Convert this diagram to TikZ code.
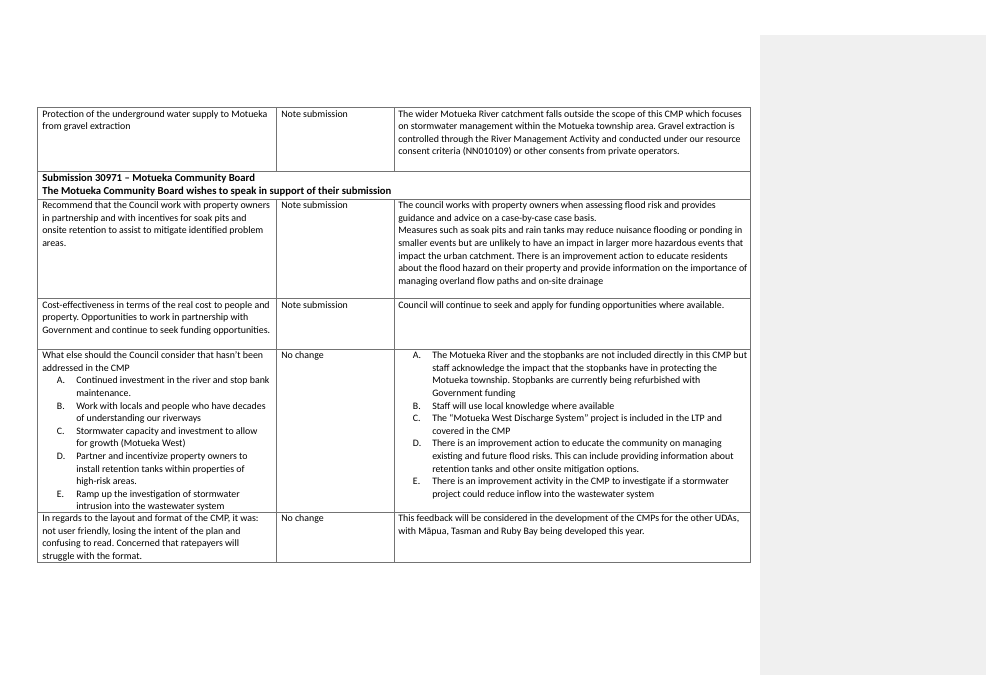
\documentclass[tikz,border=0pt]{standalone}
\usepackage{fontspec}
\setmainfont{Carlito}
\newcommand\cellfont{\fontsize{7.4}{9.45}\selectfont\frenchspacing\hyphenpenalty=10000\relax\exhyphenpenalty=10000\relax}
\newcommand\litem[2]{\hangindent=25.5pt\hangafter=1\noindent\hspace*{11pt}\makebox[14.5pt][l]{#1}#2\par}
\begin{document}
\begin{tikzpicture}[x=0.75pt, y=-0.75pt,
    cell/.style={anchor=north west, inner sep=0pt, align=flush left, font=\cellfont},
    leftcol/.style={cell, text width=171pt},
    midcol/.style={cell, text width=80pt},
    rightcol/.style={cell, text width=262pt},
    rule/.style={draw=black!55, line width=0.7pt}]
    \useasboundingbox (0,0) rectangle (986,675);
    \fill[white] (0,0) rectangle (986,675);
    % comment pane on the right
    \fill[black!6] (760,35) rectangle (986,675);

    % table grid
    \draw[rule] (37,107) rectangle (750,562);
    \foreach \yy in {171,199,298,349,512} \draw[rule] (37,\yy) -- (750,\yy);
    \draw[rule] (276,107) -- (276,171);
    \draw[rule] (394,107) -- (394,171);
    \draw[rule] (276,199) -- (276,562);
    \draw[rule] (394,199) -- (394,562);

    % row: gravel extraction
    \node[leftcol] (gravelq) at (42,110) {Protection of the underground water supply to Motueka from gravel extraction};
    \node[midcol] (gravelr) at (281,110) {Note submission};
    \node[rightcol] (gravela) at (398,110) {The wider Motueka River catchment falls outside the scope of this CMP which focuses on stormwater management within the Motueka township area. Gravel extraction is controlled through the River Management Activity and conducted under our resource consent criteria (NN010109) or other consents from private operators.};

    % submission heading
    \node[cell, font=\cellfont\fontsize{8}{9.6}\selectfont\bfseries, text width=530pt] (subhead) at (42,173.5) {Submission 30971 -- Motueka Community Board\\The Motueka Community Board wishes to speak in support of their submission};

    % row: soak pits
    \node[leftcol] (soakq) at (42,201.5) {Recommend that the Council work with property owners in partnership and with incentives for soak pits and onsite retention to assist to mitigate identified problem areas.};
    \node[midcol] (soakr) at (281,201.5) {Note submission};
    \node[rightcol] (soaka) at (398,201.5) {The council works with property owners when assessing flood risk and provides guidance and advice on a case-by-case case basis.\\Measures such as soak pits and rain tanks may reduce nuisance flooding or ponding in smaller events but are unlikely to have an impact in larger more hazardous events that impact the urban catchment. There is an improvement action to educate residents about the flood hazard on their property and provide information on the importance of managing overland flow paths and on-site drainage};

    % row: cost
    \node[leftcol] (costq) at (42,301) {Cost-effectiveness in terms of the real cost to people and property. Opportunities to work in partnership with Government and continue to seek funding opportunities.};
    \node[midcol] (costr) at (281,301) {Note submission};
    \node[rightcol] (costa) at (398,301) {Council will continue to seek and apply for funding opportunities where available.};

    % row: what else
    \node[leftcol] (elseq) at (42,351.5) {What else should the Council consider that hasn't been addressed in the CMP\par
      \litem{A.}{Continued investment in the river and stop bank maintenance.}
      \litem{B.}{Work with locals and people who have decades of understanding our riverways}
      \litem{C.}{Stormwater capacity and investment to allow for growth (Motueka West)}
      \litem{D.}{Partner and incentivize property owners to install retention tanks within properties of high-risk areas.}
      \litem{E.}{Ramp up the investigation of stormwater intrusion into the wastewater system}};
    \node[midcol] (elser) at (281,351.5) {No change};
    \node[rightcol] (elsea) at (398,351.5) {\litem{A.}{The Motueka River and the stopbanks are not included directly in this CMP but staff acknowledge the impact that the stopbanks have in protecting the Motueka township. Stopbanks are currently being refurbished with Government funding}
      \litem{B.}{Staff will use local knowledge where available}
      \litem{C.}{The “Motueka West Discharge System” project is included in the LTP and covered in the CMP}
      \litem{D.}{There is an improvement action to educate the community on managing existing and future flood risks. This can include providing information about retention tanks and other onsite mitigation options.}
      \litem{E.}{There is an improvement activity in the CMP to investigate if a stormwater project could reduce inflow into the wastewater system}};

    % row: layout
    \node[leftcol] (layoutq) at (42,514.5) {In regards to the layout and format of the CMP, it was: not user friendly, losing the intent of the plan and confusing to read. Concerned that ratepayers will struggle with the format.};
    \node[midcol] (layoutr) at (281,514.5) {No change};
    \node[rightcol] (layouta) at (398,514.5) {This feedback will be considered in the development of the CMPs for the other UDAs, with Māpua, Tasman and Ruby Bay being developed this year.};
\end{tikzpicture}
\end{document}
